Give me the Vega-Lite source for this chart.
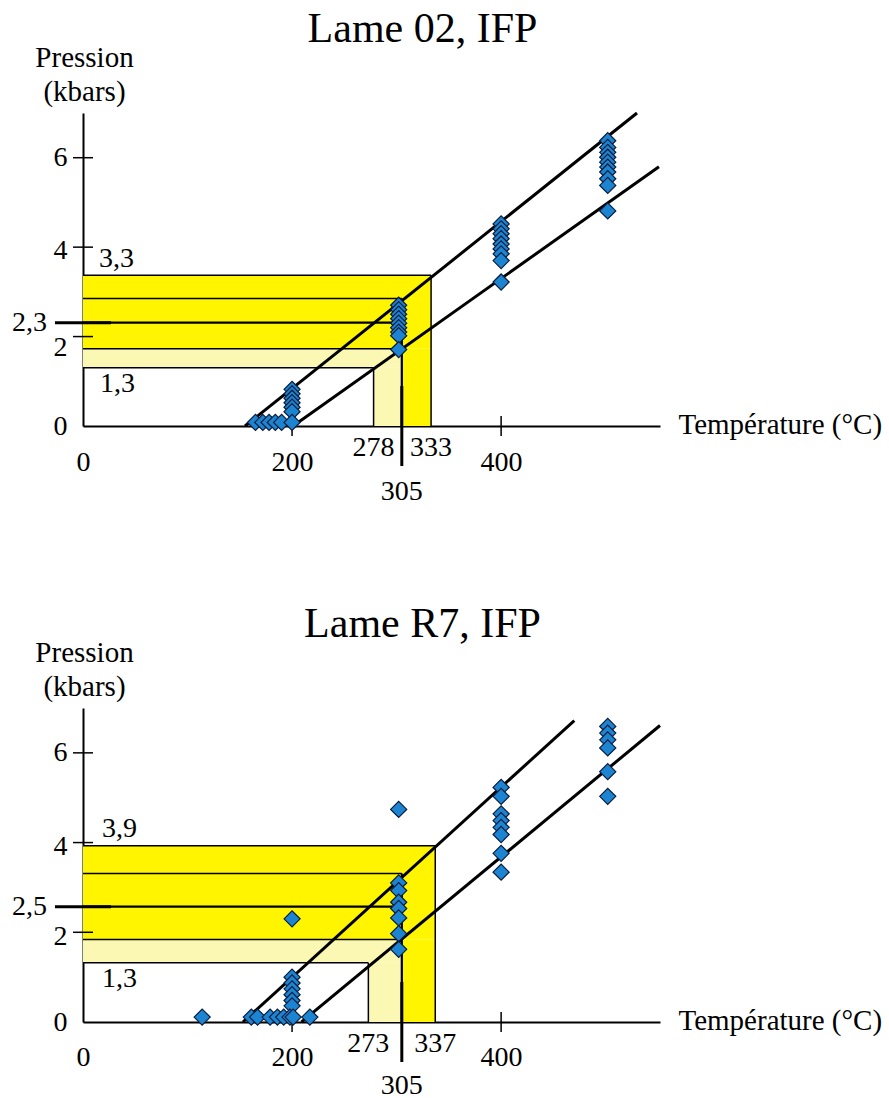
{
  "$schema": "https://vega.github.io/schema/vega-lite/v6.json",
  "background": "white",
  "padding": {"left": 12, "top": 8, "right": 0, "bottom": 0},
  "bounds": "flush",
  "spacing": 282,
  "config": {
    "view": {"stroke": null},
    "font": "Liberation Serif",
    "text": {"font": "Liberation Serif", "fontSize": 28, "color": "black"},
    "axis": {"labelFont": "Liberation Serif", "labelFontSize": 28, "labelColor": "black", "titleFont": "Liberation Serif", "titleFontWeight": "normal", "titleColor": "black", "domainColor": "black", "domainWidth": 2, "grid": false, "ticks": false, "tickSize": 0, "labelOverlap": false, "labelFlush": false, "zindex": 1}
  },
  "datasets": {
    "rects": [
      {"panel": "02", "T": 0, "T2": 333, "P": 1.73, "P2": 3.37, "zone": "intense"},
      {"panel": "02", "T": 305, "T2": 333, "P": 0, "P2": 1.73, "zone": "intense"},
      {"panel": "02", "T": 0, "T2": 305, "P": 1.3, "P2": 1.73, "zone": "pale"},
      {"panel": "02", "T": 278, "T2": 305, "P": 0, "P2": 1.3, "zone": "pale"},
      {"panel": "R7", "T": 0, "T2": 337, "P": 1.84, "P2": 3.93, "zone": "intense"},
      {"panel": "R7", "T": 305, "T2": 337, "P": 0, "P2": 1.84, "zone": "intense"},
      {"panel": "R7", "T": 0, "T2": 305, "P": 1.32, "P2": 1.84, "zone": "pale"},
      {"panel": "R7", "T": 273, "T2": 305, "P": 0, "P2": 1.32, "zone": "pale"}
    ],
    "segs": [
      {"panel": "02", "T": 0, "P": 3.37, "T2": 333, "P2": 3.37, "kind": "cadre"},
      {"panel": "02", "T": 333, "P": 0, "T2": 333, "P2": 3.37, "kind": "cadre"},
      {"panel": "02", "T": 0, "P": 2.85, "T2": 305, "P2": 2.85, "kind": "cadre"},
      {"panel": "02", "T": 0, "P": 1.73, "T2": 305, "P2": 1.73, "kind": "cadre"},
      {"panel": "02", "T": 0, "P": 1.3, "T2": 278, "P2": 1.3, "kind": "cadre"},
      {"panel": "02", "T": 278, "P": 0, "T2": 278, "P2": 1.3, "kind": "cadre"},
      {"panel": "02", "T": 0, "P": 2.31, "T2": 305, "P2": 2.31, "kind": "epais"},
      {"panel": "02", "T": 305, "P": 0, "T2": 305, "P2": 2.85, "kind": "epais"},
      {"panel": "02", "T": 155, "P": 0, "T2": 530, "P2": 7.0, "kind": "droite"},
      {"panel": "02", "T": 201, "P": 0, "T2": 551, "P2": 5.8, "kind": "droite"},
      {"panel": "R7", "T": 0, "P": 3.93, "T2": 337, "P2": 3.93, "kind": "cadre"},
      {"panel": "R7", "T": 337, "P": 0, "T2": 337, "P2": 3.93, "kind": "cadre"},
      {"panel": "R7", "T": 0, "P": 3.31, "T2": 305, "P2": 3.31, "kind": "cadre"},
      {"panel": "R7", "T": 0, "P": 1.84, "T2": 305, "P2": 1.84, "kind": "cadre"},
      {"panel": "R7", "T": 0, "P": 1.32, "T2": 273, "P2": 1.32, "kind": "cadre"},
      {"panel": "R7", "T": 273, "P": 0, "T2": 273, "P2": 1.32, "kind": "cadre"},
      {"panel": "R7", "T": 0, "P": 2.57, "T2": 305, "P2": 2.57, "kind": "epais"},
      {"panel": "R7", "T": 305, "P": 0, "T2": 305, "P2": 3.31, "kind": "epais"},
      {"panel": "R7", "T": 153, "P": 0, "T2": 470, "P2": 6.72, "kind": "droite"},
      {"panel": "R7", "T": 209, "P": 0, "T2": 552, "P2": 6.61, "kind": "droite"}
    ],
    "tks": [
      {"panel": "02", "T": 200, "P": 0, "kind": "x"},
      {"panel": "02", "T": 400, "P": 0, "kind": "x"},
      {"panel": "02", "T": 0, "P": 2, "kind": "y"},
      {"panel": "02", "T": 0, "P": 4, "kind": "y"},
      {"panel": "02", "T": 0, "P": 6, "kind": "y"},
      {"panel": "02", "T": 305, "P": 0, "kind": "xext"},
      {"panel": "02", "T": 0, "P": 2.31, "kind": "yext"},
      {"panel": "R7", "T": 200, "P": 0, "kind": "x"},
      {"panel": "R7", "T": 400, "P": 0, "kind": "x"},
      {"panel": "R7", "T": 0, "P": 2, "kind": "y"},
      {"panel": "R7", "T": 0, "P": 4, "kind": "y"},
      {"panel": "R7", "T": 0, "P": 6, "kind": "y"},
      {"panel": "R7", "T": 305, "P": 0, "kind": "xext"},
      {"panel": "R7", "T": 0, "P": 2.57, "kind": "yext"}
    ],
    "labs": [
      {"panel": "02", "kind": "haut", "T": 0, "P": 3.37, "text": "3,3"},
      {"panel": "02", "kind": "bas", "T": 0, "P": 1.3, "text": "1,3"},
      {"panel": "02", "kind": "gauche", "T": 0, "P": 2.31, "text": "2,3"},
      {"panel": "02", "kind": "x1", "T": 278, "P": 0, "text": "278"},
      {"panel": "02", "kind": "x1", "T": 333, "P": 0, "text": "333"},
      {"panel": "02", "kind": "x2", "T": 305, "P": 0, "text": "305"},
      {"panel": "R7", "kind": "haut", "T": 0, "P": 3.93, "text": "3,9"},
      {"panel": "R7", "kind": "bas", "T": 0, "P": 1.32, "text": "1,3"},
      {"panel": "R7", "kind": "gauche", "T": 0, "P": 2.57, "text": "2,5"},
      {"panel": "R7", "kind": "x1", "T": 273, "P": 0, "text": "273"},
      {"panel": "R7", "kind": "x1", "T": 337, "P": 0, "text": "337"},
      {"panel": "R7", "kind": "x2", "T": 305, "P": 0, "text": "305"}
    ],
    "pts": [
      {"panel": "02", "T": 165, "P": 0.08},
      {"panel": "02", "T": 172, "P": 0.08},
      {"panel": "02", "T": 178, "P": 0.08},
      {"panel": "02", "T": 184, "P": 0.08},
      {"panel": "02", "T": 190, "P": 0.08},
      {"panel": "02", "T": 200, "P": 0.82},
      {"panel": "02", "T": 200, "P": 0.72},
      {"panel": "02", "T": 200, "P": 0.62},
      {"panel": "02", "T": 200, "P": 0.52},
      {"panel": "02", "T": 200, "P": 0.42},
      {"panel": "02", "T": 200, "P": 0.32},
      {"panel": "02", "T": 200, "P": 0.08},
      {"panel": "02", "T": 302, "P": 2.70},
      {"panel": "02", "T": 302, "P": 2.60},
      {"panel": "02", "T": 302, "P": 2.50},
      {"panel": "02", "T": 302, "P": 2.40},
      {"panel": "02", "T": 302, "P": 2.30},
      {"panel": "02", "T": 302, "P": 2.20},
      {"panel": "02", "T": 302, "P": 2.10},
      {"panel": "02", "T": 302, "P": 2.02},
      {"panel": "02", "T": 302, "P": 1.71},
      {"panel": "02", "T": 400, "P": 4.52},
      {"panel": "02", "T": 400, "P": 4.41},
      {"panel": "02", "T": 400, "P": 4.30},
      {"panel": "02", "T": 400, "P": 4.19},
      {"panel": "02", "T": 400, "P": 4.07},
      {"panel": "02", "T": 400, "P": 3.96},
      {"panel": "02", "T": 400, "P": 3.85},
      {"panel": "02", "T": 400, "P": 3.70},
      {"panel": "02", "T": 400, "P": 3.22},
      {"panel": "02", "T": 502, "P": 6.38},
      {"panel": "02", "T": 502, "P": 6.23},
      {"panel": "02", "T": 502, "P": 6.12},
      {"panel": "02", "T": 502, "P": 6.01},
      {"panel": "02", "T": 502, "P": 5.90},
      {"panel": "02", "T": 502, "P": 5.79},
      {"panel": "02", "T": 502, "P": 5.68},
      {"panel": "02", "T": 502, "P": 5.53},
      {"panel": "02", "T": 502, "P": 5.38},
      {"panel": "02", "T": 502, "P": 4.81},
      {"panel": "R7", "T": 114, "P": 0.11},
      {"panel": "R7", "T": 161, "P": 0.11},
      {"panel": "R7", "T": 167, "P": 0.11},
      {"panel": "R7", "T": 179, "P": 0.11},
      {"panel": "R7", "T": 186, "P": 0.11},
      {"panel": "R7", "T": 192, "P": 0.11},
      {"panel": "R7", "T": 200, "P": 2.30},
      {"panel": "R7", "T": 200, "P": 1.00},
      {"panel": "R7", "T": 200, "P": 0.87},
      {"panel": "R7", "T": 200, "P": 0.74},
      {"panel": "R7", "T": 200, "P": 0.61},
      {"panel": "R7", "T": 200, "P": 0.48},
      {"panel": "R7", "T": 200, "P": 0.36},
      {"panel": "R7", "T": 198, "P": 0.11},
      {"panel": "R7", "T": 201, "P": 0.11},
      {"panel": "R7", "T": 217, "P": 0.11},
      {"panel": "R7", "T": 302, "P": 4.74},
      {"panel": "R7", "T": 302, "P": 3.10},
      {"panel": "R7", "T": 302, "P": 2.93},
      {"panel": "R7", "T": 302, "P": 2.67},
      {"panel": "R7", "T": 302, "P": 2.53},
      {"panel": "R7", "T": 302, "P": 2.32},
      {"panel": "R7", "T": 302, "P": 1.97},
      {"panel": "R7", "T": 302, "P": 1.62},
      {"panel": "R7", "T": 400, "P": 5.23},
      {"panel": "R7", "T": 400, "P": 5.03},
      {"panel": "R7", "T": 400, "P": 4.64},
      {"panel": "R7", "T": 400, "P": 4.49},
      {"panel": "R7", "T": 400, "P": 4.34},
      {"panel": "R7", "T": 400, "P": 4.18},
      {"panel": "R7", "T": 400, "P": 3.76},
      {"panel": "R7", "T": 400, "P": 3.34},
      {"panel": "R7", "T": 502, "P": 6.59},
      {"panel": "R7", "T": 502, "P": 6.44},
      {"panel": "R7", "T": 502, "P": 6.29},
      {"panel": "R7", "T": 502, "P": 6.11},
      {"panel": "R7", "T": 502, "P": 5.58},
      {"panel": "R7", "T": 502, "P": 5.03}
    ]
  },
  "vconcat": [
    {
      "width": 577,
      "height": 313,
      "title": {"text": "Lame 02, IFP", "font": "Liberation Serif", "fontSize": 42, "fontWeight": "normal", "color": "black", "anchor": "middle", "frame": "group", "dx": 51, "offset": -8},
      "encoding": {
        "x": {"field": "T", "type": "quantitative", "scale": {"domain": [0, 552], "nice": false, "zero": false},
          "axis": {"values": [0, 200, 400], "format": "d", "title": "Température (°C)", "titleX": 595, "titleY": 7, "titleAngle": 0, "titleAlign": "left", "titleBaseline": "alphabetic", "titleFontSize": 29, "labelBaseline": "alphabetic", "labelPadding": 44}},
        "y": {"field": "P", "type": "quantitative", "scale": {"domain": [0, 7], "nice": false, "zero": false},
          "axis": {"values": [0, 2, 4, 6], "format": "d", "title": ["Pression", "(kbars)"], "titleX": 1, "titleY": -47, "titleAngle": 0, "titleAlign": "center", "titleBaseline": "alphabetic", "titleLineHeight": 34, "titleFontSize": 29, "labelBaseline": "middle", "labelAlign": "right", "labelPadding": 16,
            "labelOffset": {"condition": [{"test": "datum.value == 2", "value": 11}, {"test": "datum.value == 4", "value": 3}], "value": 0}}}
      },
      "layer": [
        {
          "data": {"name": "rects"},
          "transform": [{"filter": "datum.panel == '02'"}],
          "mark": {"type": "rect"},
          "encoding": {
            "x2": {"field": "T2"},
            "y2": {"field": "P2"},
            "color": {"field": "zone", "type": "nominal", "scale": {"domain": ["intense", "pale"], "range": ["#FFF500", "#FAF8B2"]}, "legend": null}
          }
        },
        {
          "data": {"name": "segs"},
          "transform": [{"filter": "datum.panel == '02'"}],
          "mark": {"type": "rule", "color": "black"},
          "encoding": {
            "x2": {"field": "T2"},
            "y2": {"field": "P2"},
            "strokeWidth": {"field": "kind", "type": "nominal", "scale": {"domain": ["cadre", "epais", "droite"], "range": [1.5, 3, 1.1]}, "legend": null}
          }
        },
        {
          "data": {"name": "tks"},
          "transform": [{"filter": "datum.panel == '02' && datum.kind == 'x'"}],
          "mark": {"type": "tick", "orient": "vertical", "size": 20, "thickness": 1.5, "color": "black", "opacity": 1}
        },
        {
          "data": {"name": "tks"},
          "transform": [{"filter": "datum.panel == '02' && datum.kind == 'y'"}],
          "mark": {"type": "tick", "orient": "horizontal", "size": 20, "thickness": 1.5, "color": "black", "opacity": 1}
        },
        {
          "data": {"name": "tks"},
          "transform": [{"filter": "datum.panel == '02' && datum.kind == 'xext'"}],
          "mark": {"type": "tick", "orient": "vertical", "size": 80, "thickness": 3, "color": "black", "opacity": 1}
        },
        {
          "data": {"name": "tks"},
          "transform": [{"filter": "datum.panel == '02' && datum.kind == 'yext'"}],
          "mark": {"type": "tick", "orient": "horizontal", "size": 56, "thickness": 3, "color": "black", "opacity": 1}
        },
        {
          "data": {"name": "pts"},
          "transform": [{"filter": "datum.panel == '02'"}],
          "mark": {"type": "point", "shape": "diamond", "filled": true, "size": 260, "fill": "#1C84D0", "stroke": "#0B1C3C", "strokeWidth": 1.2, "opacity": 1}
        },
        {
          "data": {"name": "labs"},
          "transform": [{"filter": "datum.panel == '02' && datum.kind == 'haut'"}],
          "mark": {"type": "text", "align": "left", "baseline": "alphabetic", "dx": 16, "dy": -8},
          "encoding": {"text": {"field": "text"}}
        },
        {
          "data": {"name": "labs"},
          "transform": [{"filter": "datum.panel == '02' && datum.kind == 'bas'"}],
          "mark": {"type": "text", "align": "left", "baseline": "alphabetic", "dx": 17, "dy": 24},
          "encoding": {"text": {"field": "text"}}
        },
        {
          "data": {"name": "labs"},
          "transform": [{"filter": "datum.panel == '02' && datum.kind == 'gauche'"}],
          "mark": {"type": "text", "align": "right", "baseline": "middle", "dx": -36},
          "encoding": {"text": {"field": "text"}}
        },
        {
          "data": {"name": "labs"},
          "transform": [{"filter": "datum.panel == '02' && datum.kind == 'x1'"}],
          "mark": {"type": "text", "align": "center", "baseline": "alphabetic", "dy": 30},
          "encoding": {"text": {"field": "text"}}
        },
        {
          "data": {"name": "labs"},
          "transform": [{"filter": "datum.panel == '02' && datum.kind == 'x2'"}],
          "mark": {"type": "text", "align": "center", "baseline": "alphabetic", "dy": 74},
          "encoding": {"text": {"field": "text"}}
        }
      ]
    },
    {
      "width": 577,
      "height": 314,
      "title": {"text": "Lame R7, IFP", "font": "Liberation Serif", "fontSize": 42, "fontWeight": "normal", "color": "black", "anchor": "middle", "frame": "group", "dx": 51, "offset": -8},
      "encoding": {
        "x": {"field": "T", "type": "quantitative", "scale": {"domain": [0, 552], "nice": false, "zero": false},
          "axis": {"values": [0, 200, 400], "format": "d", "title": "Température (°C)", "titleX": 595, "titleY": 7, "titleAngle": 0, "titleAlign": "left", "titleBaseline": "alphabetic", "titleFontSize": 29, "labelBaseline": "alphabetic", "labelPadding": 43}},
        "y": {"field": "P", "type": "quantitative", "scale": {"domain": [0, 7], "nice": false, "zero": false},
          "axis": {"values": [0, 2, 4, 6], "format": "d", "title": ["Pression", "(kbars)"], "titleX": 1, "titleY": -47, "titleAngle": 0, "titleAlign": "center", "titleBaseline": "alphabetic", "titleLineHeight": 34, "titleFontSize": 29, "labelBaseline": "middle", "labelAlign": "right", "labelPadding": 16,
            "labelOffset": {"condition": {"test": "datum.value == 2 || datum.value == 4", "value": 4}, "value": 0}}}
      },
      "layer": [
        {
          "data": {"name": "rects"},
          "transform": [{"filter": "datum.panel == 'R7'"}],
          "mark": {"type": "rect"},
          "encoding": {
            "x2": {"field": "T2"},
            "y2": {"field": "P2"},
            "color": {"field": "zone", "type": "nominal", "scale": {"domain": ["intense", "pale"], "range": ["#FFF500", "#FAF8B2"]}, "legend": null}
          }
        },
        {
          "data": {"name": "segs"},
          "transform": [{"filter": "datum.panel == 'R7'"}],
          "mark": {"type": "rule", "color": "black"},
          "encoding": {
            "x2": {"field": "T2"},
            "y2": {"field": "P2"},
            "strokeWidth": {"field": "kind", "type": "nominal", "scale": {"domain": ["cadre", "epais", "droite"], "range": [1.5, 3, 1.1]}, "legend": null}
          }
        },
        {
          "data": {"name": "tks"},
          "transform": [{"filter": "datum.panel == 'R7' && datum.kind == 'x'"}],
          "mark": {"type": "tick", "orient": "vertical", "size": 20, "thickness": 1.5, "color": "black", "opacity": 1}
        },
        {
          "data": {"name": "tks"},
          "transform": [{"filter": "datum.panel == 'R7' && datum.kind == 'y'"}],
          "mark": {"type": "tick", "orient": "horizontal", "size": 20, "thickness": 1.5, "color": "black", "opacity": 1}
        },
        {
          "data": {"name": "tks"},
          "transform": [{"filter": "datum.panel == 'R7' && datum.kind == 'xext'"}],
          "mark": {"type": "tick", "orient": "vertical", "size": 80, "thickness": 3, "color": "black", "opacity": 1}
        },
        {
          "data": {"name": "tks"},
          "transform": [{"filter": "datum.panel == 'R7' && datum.kind == 'yext'"}],
          "mark": {"type": "tick", "orient": "horizontal", "size": 56, "thickness": 3, "color": "black", "opacity": 1}
        },
        {
          "data": {"name": "pts"},
          "transform": [{"filter": "datum.panel == 'R7'"}],
          "mark": {"type": "point", "shape": "diamond", "filled": true, "size": 260, "fill": "#1C84D0", "stroke": "#0B1C3C", "strokeWidth": 1.2, "opacity": 1}
        },
        {
          "data": {"name": "labs"},
          "transform": [{"filter": "datum.panel == 'R7' && datum.kind == 'haut'"}],
          "mark": {"type": "text", "align": "left", "baseline": "alphabetic", "dx": 19, "dy": -9},
          "encoding": {"text": {"field": "text"}}
        },
        {
          "data": {"name": "labs"},
          "transform": [{"filter": "datum.panel == 'R7' && datum.kind == 'bas'"}],
          "mark": {"type": "text", "align": "left", "baseline": "alphabetic", "dx": 19, "dy": 24},
          "encoding": {"text": {"field": "text"}}
        },
        {
          "data": {"name": "labs"},
          "transform": [{"filter": "datum.panel == 'R7' && datum.kind == 'gauche'"}],
          "mark": {"type": "text", "align": "right", "baseline": "middle", "dx": -36},
          "encoding": {"text": {"field": "text"}}
        },
        {
          "data": {"name": "labs"},
          "transform": [{"filter": "datum.panel == 'R7' && datum.kind == 'x1'"}],
          "mark": {"type": "text", "align": "center", "baseline": "alphabetic", "dy": 30},
          "encoding": {"text": {"field": "text"}}
        },
        {
          "data": {"name": "labs"},
          "transform": [{"filter": "datum.panel == 'R7' && datum.kind == 'x2'"}],
          "mark": {"type": "text", "align": "center", "baseline": "alphabetic", "dy": 72},
          "encoding": {"text": {"field": "text"}}
        }
      ]
    }
  ]
}
